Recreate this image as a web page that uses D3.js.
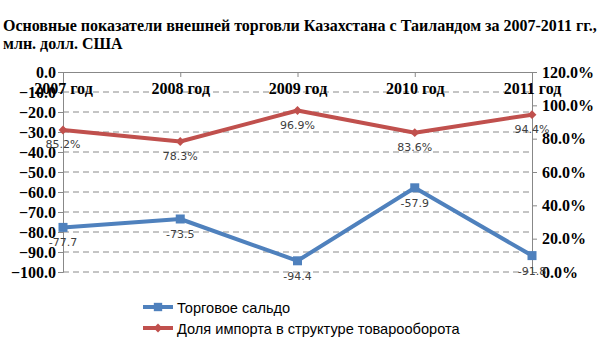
<!DOCTYPE html>
<html>
<head>
<meta charset="utf-8">
<script src="https://cdn.jsdelivr.net/npm/d3@7"></script>
<style>
  html, body { margin: 0; padding: 0; background: #fff; }
  svg { display: block; }
</style>
</head>
<body>
<svg id="chart" width="605" height="340"></svg>
<script>
// Years on the category axis
const years = ["2007 год", "2008 год", "2009 год", "2010 год", "2011 год"];
// Trade balance, mln USD (left axis)
const balance = [-77.7, -73.5, -94.4, -57.9, -91.8];
// Import share in turnover, % (right axis)
const importShare = [85.2, 78.3, 96.9, 83.6, 94.4];
// Axis ticks
const leftTicks = [0, -10, -20, -30, -40, -50, -60, -70, -80, -90, -100];
const rightTicks = [0, 20, 40, 60, 80, 100, 120];
const seriesNames = ["Торговое сальдо", "Доля импорта в структуре товарооборота"];

const BLUE = "#4F81BD", RED = "#C0504D";
const svg = d3.select("#chart");

const plotL = 63, plotR = 532, plotT = 72, plotB = 272;

const x = d3.scalePoint().domain(years).range([plotL, plotR]);
const yL = d3.scaleLinear().domain([-100, 0]).range([plotB, plotT]);
const yR = d3.scaleLinear().domain([0, 120]).range([plotB, plotT]);

// Title
const title = svg.append("text")
  .attr("font-family", "Liberation Serif, serif")
  .attr("font-weight", "bold").attr("font-size", 16).attr("fill", "#000");
title.append("tspan").attr("x", 3).attr("y", 31)
  .text("Основные показатели внешней торговли Казахстана с Таиландом за 2007-2011 гг.,");
title.append("tspan").attr("x", 3).attr("y", 49).text("млн. долл. США");

// Dashed gridlines
svg.append("g").selectAll("line")
  .data(leftTicks.filter(d => d !== 0))
  .join("line")
  .attr("x1", plotL).attr("x2", plotR)
  .attr("y1", d => yL(d)).attr("y2", d => yL(d))
  .attr("stroke", "#8a8a8a").attr("stroke-width", 1)
  .attr("stroke-dasharray", "6,4");

const tickFont = g => g.selectAll("text")
  .attr("font-family", "Liberation Serif, serif")
  .attr("font-weight", "bold").attr("font-size", 16).attr("fill", "#000");

// Left value axis
const axL = svg.append("g").attr("transform", `translate(${plotL},0)`)
  .call(d3.axisLeft(yL).tickValues(leftTicks).tickFormat(d3.format(".1f")).tickSize(5).tickPadding(2));
axL.selectAll("path, line").attr("stroke", "#888");
axL.call(tickFont);

// Right percentage axis
const axR = svg.append("g").attr("transform", `translate(${plotR},0)`)
  .call(d3.axisRight(yR).tickValues(rightTicks).tickFormat(d => d.toFixed(1) + "%").tickSize(5).tickPadding(5));
axR.selectAll("path, line").attr("stroke", "#888");
axR.call(tickFont);

// Category axis along the zero line
const axX = svg.append("g").attr("transform", `translate(0,${yL(0)})`)
  .call(d3.axisBottom(x).tickSize(5).tickPadding(6).tickSizeOuter(0));
axX.selectAll("path, line").attr("stroke", "#888");
axX.call(tickFont);

// Lines
const lineL = d3.line().x((d, i) => x(years[i])).y(d => yL(d));
const lineR = d3.line().x((d, i) => x(years[i])).y(d => yR(d));

svg.append("path").datum(balance).attr("d", lineL)
  .attr("fill", "none").attr("stroke", BLUE).attr("stroke-width", 4).attr("stroke-linejoin", "round");
svg.append("path").datum(importShare).attr("d", lineR)
  .attr("fill", "none").attr("stroke", RED).attr("stroke-width", 4).attr("stroke-linejoin", "round");

// Markers
svg.append("g").selectAll("rect").data(balance).join("rect")
  .attr("x", (d, i) => x(years[i]) - 4.5).attr("y", d => yL(d) - 4.5)
  .attr("width", 9).attr("height", 9).attr("fill", BLUE);
svg.append("g").selectAll("path").data(importShare).join("path")
  .attr("d", d3.symbol().type(d3.symbolDiamond2).size(50))
  .attr("transform", (d, i) => `translate(${x(years[i])},${yR(d)})`)
  .attr("fill", RED);

// Data labels
const labelFont = sel => sel.attr("font-family", "DejaVu Sans, sans-serif")
  .attr("font-size", 11).attr("fill", "#404040").attr("text-anchor", "middle");
svg.append("g").selectAll("text").data(balance).join("text")
  .attr("x", (d, i) => x(years[i])).attr("y", d => yL(d) + 19)
  .text(d => d.toFixed(1)).call(labelFont);
svg.append("g").selectAll("text").data(importShare).join("text")
  .attr("x", (d, i) => x(years[i])).attr("y", d => yR(d) + 18)
  .text(d => d.toFixed(1) + "%").call(labelFont);

// Legend
const legend = svg.append("g");
const rows = [
  { name: seriesNames[0], color: BLUE, shape: d3.symbolSquare, size: 70 },
  { name: seriesNames[1], color: RED, shape: d3.symbolDiamond2, size: 50 }
];
rows.forEach((r, i) => {
  const cy = 307 + i * 21;
  legend.append("line").attr("x1", 143).attr("x2", 173).attr("y1", cy).attr("y2", cy)
    .attr("stroke", r.color).attr("stroke-width", 4);
  legend.append("path").attr("d", d3.symbol().type(r.shape).size(r.size))
    .attr("transform", `translate(158,${cy})`).attr("fill", r.color);
  legend.append("text").attr("x", 177).attr("y", cy + 5.5)
    .attr("font-family", "Liberation Sans, sans-serif").attr("font-size", 14.6).attr("fill", "#000")
    .text(r.name);
});
</script>
</body>
</html>
